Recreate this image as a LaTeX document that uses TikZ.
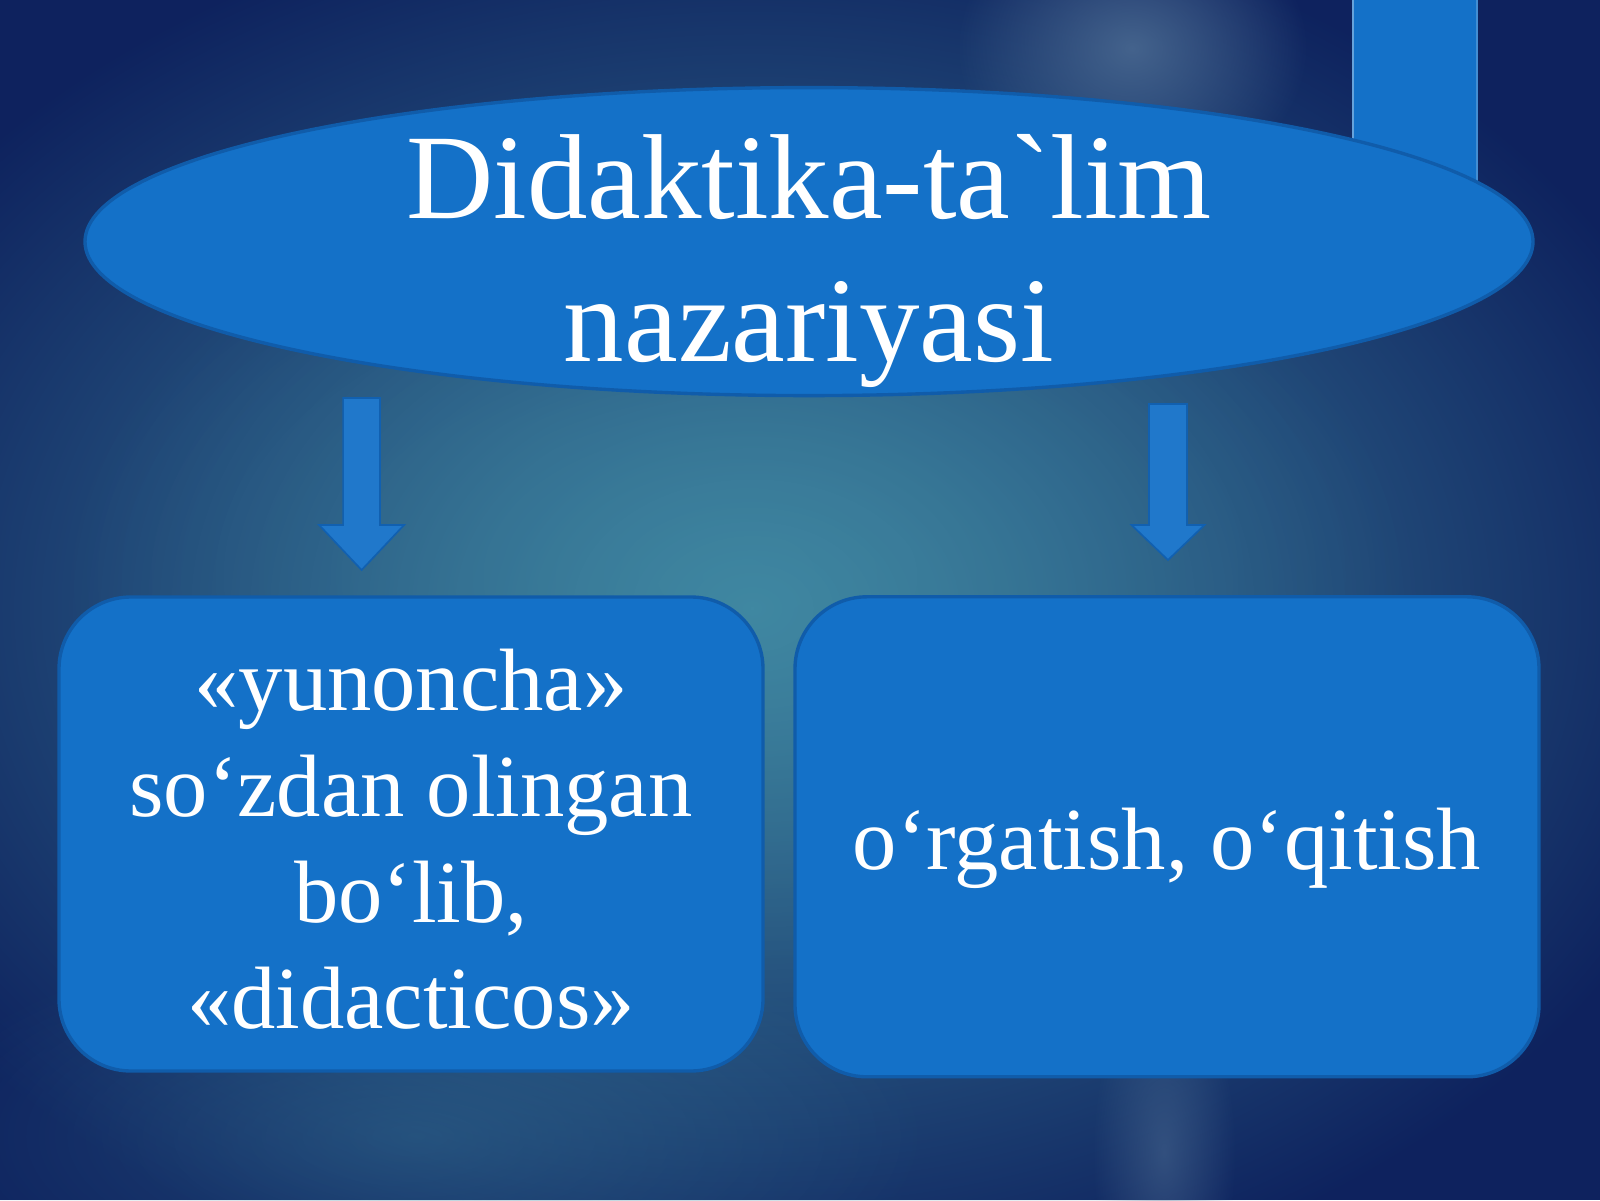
\documentclass[tikz,border=0pt]{standalone}
\usepackage{fontspec}
\setmainfont{Liberation Serif}
\newfontfamily\plainserif{Liberation Serif}
\usetikzlibrary{shapes.geometric,fadings}
\definecolor{navy}{RGB}{14,34,94}
\definecolor{glowc}{RGB}{64,136,162}
\definecolor{hazec}{RGB}{80,112,150}
\definecolor{shapefill}{RGB}{20,113,200}
\definecolor{shapeline}{RGB}{16,92,170}
\tikzfading[name=softedge, inner color=transparent!0, outer color=transparent!100]
\tikzset{
  blueshape/.style={fill=shapefill, draw=shapeline, line width=1.2pt},
  titlefont/.style={font=\fontsize{43}{50.8}\selectfont},
  boxfont/.style={font=\fontsize{31.5}{37.7}\selectfont},
  infobox/.style={blueshape, rounded corners=0.9cm, inner sep=0pt},
  labeltext/.style={text=white, align=center, inner sep=0pt},
  blockarrow/.style={fill=shapefill!95!white, draw=shapeline!80!shapefill, line width=0.6pt, line join=miter}
}
\begin{document}
\begin{tikzpicture}
\useasboundingbox (0,0) rectangle (20,15);
% background
\fill[navy] (0,0) rectangle (20,15);
\begin{scope}
  \clip (0,0) rectangle (20,15);
  \fill[glowc, path fading=softedge] (9.4,7.4) ellipse (12.5cm and 9cm);
  \fill[glowc, path fading=softedge, opacity=0.45] (9.2,7.8) ellipse (8.5cm and 5cm);
  \fill[glowc, path fading=softedge, opacity=0.35] (5.2,0.8) ellipse (6.5cm and 2.6cm);
  \fill[hazec, path fading=softedge, opacity=0.8] (14.15,14.4) ellipse (2.2cm and 1.8cm);
  \fill[hazec, path fading=softedge, opacity=0.5] (14.55,0.6) ellipse (0.9cm and 2.2cm);
\end{scope}
% top-right bar
\fill[shapefill] (16.9125,12.6) rectangle (18.4625,15.2);
\draw[white!35!shapefill, line width=0.5pt] (16.9125,12.6) -- (16.9125,15.2);
\draw[white!20!shapefill, line width=0.4pt] (18.4625,12.6) -- (18.4625,15.2);
% title ellipse
\node[blueshape, ellipse, minimum width=18.1cm, minimum height=3.85cm, inner sep=0pt]
  (title) at (10.1125,11.98) {};
\node[labeltext, titlefont] (titletext) at ([yshift=-0.24cm]title.center)
  {Didaktika-ta{\plainserif`}lim\\nazariyasi};
% boxes
\node[infobox, minimum width=8.8cm, minimum height=5.925cm] (boxL) at (5.1375,4.575) {};
\node[labeltext, boxfont] (textL) at ([yshift=-0.07cm]boxL.center)
  {«yunoncha»\\so‘zdan olingan\\bo‘lib,\\«didacticos»};
\node[infobox, minimum width=9.3cm, minimum height=6.0cm] (boxR) at (14.5875,4.54) {};
\node[labeltext, boxfont] (textR) at ([yshift=-0.15cm]boxR.center)
  {o‘rgatish, o‘qitish};
% arrows
\coordinate (aL) at (4.52,10.025);
\coordinate (aR) at (14.6,9.95);
\draw[blockarrow] (aL) ++(-0.231,0) -- ++(0,-1.5875) -- ++(-0.3,0) -- (4.52,7.875) -- (4.52+0.531,8.4375) -- ++(-0.3,0) -- (4.52+0.231,10.025) -- cycle;
\draw[blockarrow] (aR) ++(-0.2375,0) -- ++(0,-1.5125) -- ++(-0.2185,0) -- (14.6,8.0) -- (14.6+0.456,8.4375) -- ++(-0.2185,0) -- (14.6+0.2375,9.95) -- cycle;
\end{tikzpicture}
\end{document}
